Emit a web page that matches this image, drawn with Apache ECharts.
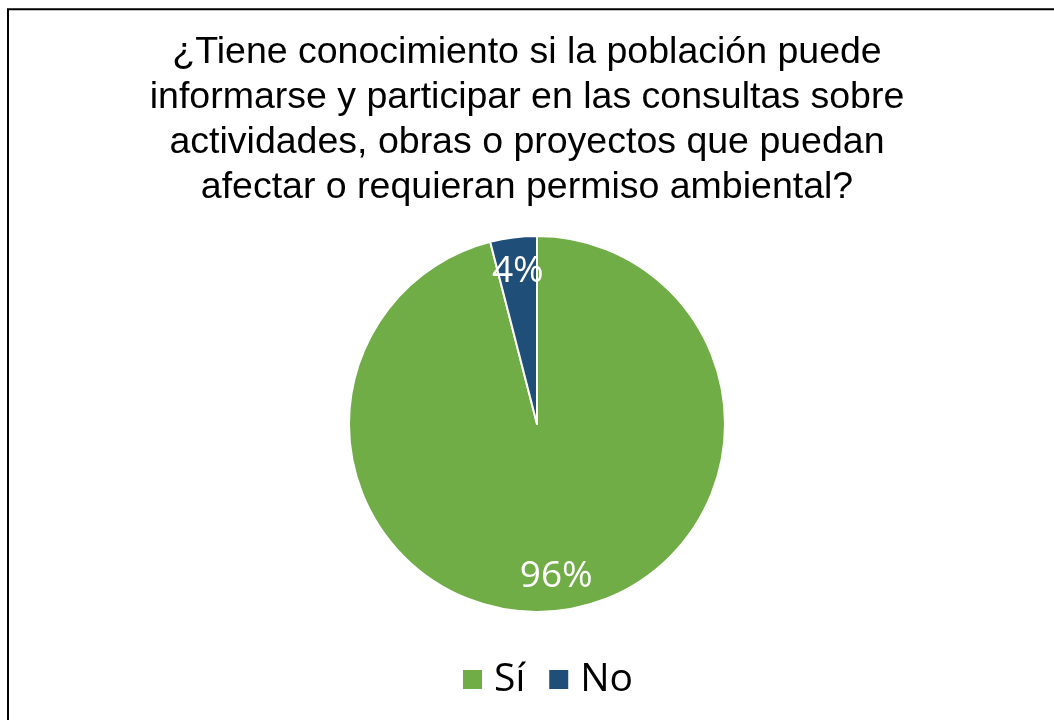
<!DOCTYPE html>
<html>
<head>
<meta charset="utf-8">
<script src="https://cdn.jsdelivr.net/npm/echarts@6/dist/echarts.min.js"></script>
<style>
  html, body { margin: 0; padding: 0; background: #fff; }
  #chart { width: 1054px; height: 720px; }
</style>
</head>
<body>
<div id="chart"></div>
<script>
// datos del gráfico
const titleText = '¿Tiene conocimiento si la población puede\ninformarse y participar en las consultas sobre\nactividades, obras o proyectos que puedan\nafectar o requieran permiso ambiental?'
const categories = ['Sí', 'No']
const values = [96, 4]
const colors = ['#70AD47', '#1F4E79']

const pieData = categories.map((name, i) => ({ name: name, value: values[i] }))

const myChart = echarts.init(document.getElementById('chart'))

const option = {
  color: colors,
  animation: false,
  title: {
    text: titleText,
    left: 'center',
    top: 25,
    textStyle: {
      fontFamily: 'Liberation Sans',
      fontSize: 37.5,
      fontWeight: 'normal',
      color: '#000',
      lineHeight: 45,
    },
  },
  legend: {
    data: categories,
    bottom: 16,
    left: 456,
    itemWidth: 21,
    itemHeight: 21,
    itemGap: 22,
    icon: 'rect',
    textStyle: {
      fontFamily: 'Open Sans',
      fontSize: 39,
      color: '#000',
      padding: [0, 0, 0, 6],
    },
  },
  graphic: [
    {
      type: 'rect',
      shape: { x: 8, y: 9.3, width: 1200, height: 900 },
      style: { fill: 'none', stroke: '#000', lineWidth: 2 },
      silent: true,
    },
  ],
  series: [
    {
      // sectores
      type: 'pie',
      center: [537, 424],
      radius: [0, 188],
      startAngle: 90,
      clockwise: true,
      label: { show: false },
      labelLine: { show: false },
      itemStyle: { borderColor: '#fff', borderWidth: 2 },
      emphasis: { disabled: true },
      data: pieData,
    },
    {
      // etiquetas de porcentaje (al 80% del radio)
      type: 'pie',
      center: [537, 424],
      radius: [113, 188],
      startAngle: 90,
      clockwise: true,
      silent: true,
      itemStyle: { color: 'transparent' },
      label: {
        show: true,
        position: 'inside',
        formatter: '{c}%',
        fontFamily: 'Open Sans',
        fontSize: 37,
        color: '#fff',
      },
      labelLine: { show: false },
      emphasis: { disabled: true },
      data: pieData,
    },
  ],
}

myChart.setOption(option)
window.addEventListener('resize', () => {
  myChart.resize()
})
</script>
</body>
</html>
